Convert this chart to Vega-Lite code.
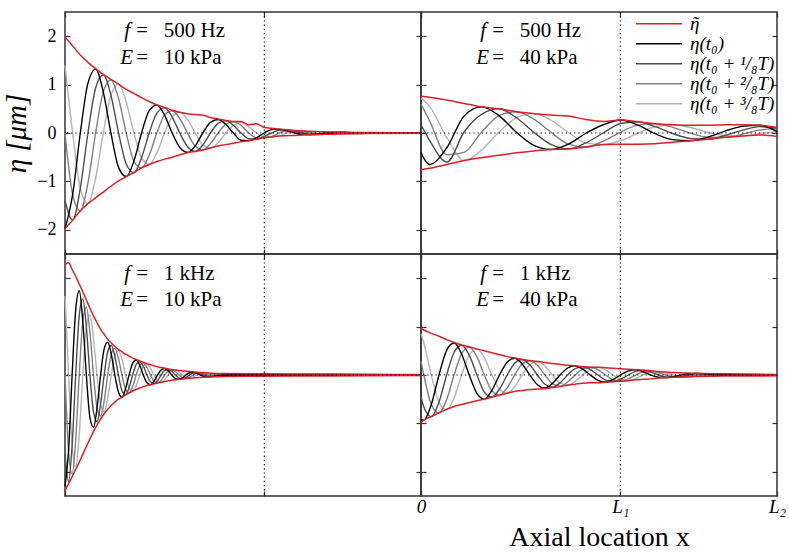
{
"$schema": "https://vega.github.io/schema/vega-lite/v6.json",
"background": "white",
"padding": {"left": 2, "top": 10, "right": 10, "bottom": 0},
"datasets": {
"tl": [
{"x":0,"u":1.98,"l":-1.98,"a":-1.98,"b":-1.4,"c":0,"d":1.4},
{"x":0.0215,"u":1.8,"l":-1.8,"a":-1.27,"b":-1.8,"c":-1.27,"d":0},
{"x":0.043,"u":1.61,"l":-1.61,"a":0,"b":-1.14,"c":-1.61,"d":-1.14},
{"x":0.0645,"u":1.46,"l":-1.46,"a":1.03,"b":0,"c":-1.03,"d":-1.46},
{"x":0.086,"u":1.33,"l":-1.34,"a":1.32,"b":0.93,"c":0,"d":-0.93},
{"x":0.1075,"u":1.21,"l":-1.22,"a":0.85,"b":1.2,"c":0.85,"d":0},
{"x":0.129,"u":1.11,"l":-1.1,"a":0,"b":0.78,"c":1.1,"d":0.78},
{"x":0.1505,"u":1.01,"l":-0.99,"a":-0.71,"b":0,"c":0.71,"d":1.01},
{"x":0.172,"u":0.9,"l":-0.9,"a":-0.9,"b":-0.64,"c":0,"d":0.64},
{"x":0.1935,"u":0.82,"l":-0.82,"a":-0.58,"b":-0.82,"c":-0.58,"d":0},
{"x":0.215,"u":0.73,"l":-0.72,"a":0,"b":-0.51,"c":-0.72,"d":-0.51},
{"x":0.2365,"u":0.65,"l":-0.65,"a":0.46,"b":0,"c":-0.46,"d":-0.65},
{"x":0.258,"u":0.58,"l":-0.59,"a":0.58,"b":0.41,"c":0,"d":-0.41},
{"x":0.2795,"u":0.53,"l":-0.54,"a":0.37,"b":0.52,"c":0.37,"d":0},
{"x":0.301,"u":0.47,"l":-0.5,"a":0,"b":0.33,"c":0.46,"d":0.33},
{"x":0.3225,"u":0.43,"l":-0.45,"a":-0.3,"b":0,"c":0.3,"d":0.43},
{"x":0.344,"u":0.4,"l":-0.41,"a":-0.4,"b":-0.28,"c":0,"d":0.28},
{"x":0.3655,"u":0.38,"l":-0.38,"a":-0.27,"b":-0.38,"c":-0.27,"d":0},
{"x":0.387,"u":0.37,"l":-0.35,"a":0,"b":-0.25,"c":-0.35,"d":-0.25},
{"x":0.4085,"u":0.32,"l":-0.31,"a":0.22,"b":0,"c":-0.22,"d":-0.31},
{"x":0.43,"u":0.29,"l":-0.27,"a":0.28,"b":0.2,"c":0,"d":-0.2},
{"x":0.4515,"u":0.26,"l":-0.24,"a":0.18,"b":0.25,"c":0.18,"d":0},
{"x":0.473,"u":0.24,"l":-0.21,"a":0,"b":0.16,"c":0.23,"d":0.16},
{"x":0.4945,"u":0.24,"l":-0.18,"a":-0.15,"b":0,"c":0.16,"d":0.22},
{"x":0.516,"u":0.17,"l":-0.16,"a":-0.16,"b":-0.12,"c":0,"d":0.13},
{"x":0.5375,"u":0.19,"l":-0.13,"a":-0.1,"b":-0.13,"c":-0.1,"d":0},
{"x":0.559,"u":0.12,"l":-0.1,"a":0,"b":-0.07,"c":-0.1,"d":-0.07},
{"x":0.5805,"u":0.1,"l":-0.08,"a":0.07,"b":0,"c":-0.07,"d":-0.08},
{"x":0.602,"u":0.08,"l":-0.06,"a":0.08,"b":0.057,"c":0,"d":-0.057},
{"x":0.6235,"u":0.065,"l":-0.055,"a":0.046,"b":0.062,"c":0.046,"d":0},
{"x":0.645,"u":0.05,"l":-0.05,"a":0,"b":0.035,"c":0.05,"d":0.035},
{"x":0.6665,"u":0.04,"l":-0.04,"a":-0.028,"b":0,"c":0.028,"d":0.04},
{"x":0.688,"u":0.035,"l":-0.035,"a":-0.035,"b":-0.025,"c":0,"d":0.025},
{"x":0.7095,"u":0.03,"l":-0.03,"a":-0.021,"b":-0.03,"c":-0.021,"d":0},
{"x":0.731,"u":0.025,"l":-0.028,"a":0,"b":-0.018,"c":-0.025,"d":-0.018},
{"x":0.7525,"u":0.02,"l":-0.024,"a":0.014,"b":0,"c":-0.014,"d":-0.02},
{"x":0.774,"u":0.015,"l":-0.02,"a":0.015,"b":0.011,"c":0,"d":-0.011},
{"x":0.85,"u":0.008,"l":-0.012,"a":0,"b":0,"c":0,"d":0},
{"x":1,"u":0.002,"l":-0.006,"a":0,"b":0,"c":0,"d":0}
],
"tr": [
{"x":0,"u":0.76,"l":-0.76,"a":-0.41,"b":0.17,"c":0.6,"d":0.72},
{"x":0.024,"u":0.74,"l":-0.73,"a":-0.65,"b":-0.15,"c":0.25,"d":0.55},
{"x":0.073,"u":0.68,"l":-0.65,"a":-0.3,"b":-0.6,"c":-0.45,"d":-0.1},
{"x":0.121,"u":0.61,"l":-0.57,"a":0.35,"b":0.02,"c":-0.4,"d":-0.57},
{"x":0.17,"u":0.54,"l":-0.51,"a":0.54,"b":0.386,"c":0.015,"d":-0.356},
{"x":0.219,"u":0.5,"l":-0.46,"a":0.36,"b":0.5,"c":0.36,"d":0.02},
{"x":0.268,"u":0.44,"l":-0.41,"a":0.015,"b":0.315,"c":0.44,"d":0.315},
{"x":0.317,"u":0.4,"l":-0.37,"a":-0.257,"b":0.015,"c":0.287,"d":0.4},
{"x":0.365,"u":0.37,"l":-0.34,"a":-0.34,"b":-0.236,"c":0.015,"d":0.266},
{"x":0.414,"u":0.35,"l":-0.33,"a":-0.23,"b":-0.33,"c":-0.23,"d":0.01},
{"x":0.463,"u":0.28,"l":-0.29,"a":-0.005,"b":-0.205,"c":-0.29,"d":-0.205},
{"x":0.512,"u":0.24,"l":-0.24,"a":0.17,"b":0,"c":-0.17,"d":-0.24},
{"x":0.561,"u":0.27,"l":-0.23,"a":0.27,"b":0.197,"c":0.02,"d":-0.157},
{"x":0.61,"u":0.23,"l":-0.23,"a":0.163,"b":0.23,"c":0.163,"d":0},
{"x":0.658,"u":0.19,"l":-0.22,"a":-0.015,"b":0.13,"c":0.19,"d":0.13},
{"x":0.707,"u":0.17,"l":-0.19,"a":-0.137,"b":-0.01,"c":0.117,"d":0.17},
{"x":0.756,"u":0.16,"l":-0.16,"a":-0.16,"b":-0.113,"c":0,"d":0.113},
{"x":0.805,"u":0.16,"l":-0.13,"a":-0.088,"b":-0.13,"c":-0.088,"d":0.015},
{"x":0.854,"u":0.17,"l":-0.09,"a":0.04,"b":-0.052,"c":-0.09,"d":-0.052},
{"x":0.902,"u":0.17,"l":-0.06,"a":0.136,"b":0.055,"c":-0.026,"d":-0.06},
{"x":0.951,"u":0.16,"l":-0.04,"a":0.16,"b":0.131,"c":0.06,"d":-0.011},
{"x":1,"u":0.12,"l":-0.07,"a":0.03,"b":0.1,"c":0.09,"d":0.025}
],
"bl": [
{"x":0,"u":2.28,"l":-2.38,"a":-2.3,"b":-1.63,"c":0,"d":1.63},
{"x":0.01,"u":2.32,"l":-2.25,"a":-1.56,"b":-2.2,"c":-1.56,"d":0},
{"x":0.02,"u":2.18,"l":-2.1,"a":0,"b":-1.45,"c":-2.05,"d":-1.45},
{"x":0.03,"u":2.04,"l":-1.95,"a":1.34,"b":0,"c":-1.34,"d":-1.9},
{"x":0.04,"u":1.88,"l":-1.8,"a":1.74,"b":1.23,"c":0,"d":-1.23},
{"x":0.05,"u":1.72,"l":-1.64,"a":1.11,"b":1.57,"c":1.11,"d":0},
{"x":0.06,"u":1.55,"l":-1.48,"a":0,"b":0.99,"c":1.4,"d":0.99},
{"x":0.07,"u":1.38,"l":-1.32,"a":-0.88,"b":0,"c":0.88,"d":1.24},
{"x":0.08,"u":1.22,"l":-1.17,"a":-1.08,"b":-0.76,"c":0,"d":0.76},
{"x":0.09,"u":1.08,"l":-1.03,"a":-0.68,"b":-0.96,"c":-0.68,"d":0},
{"x":0.1,"u":0.95,"l":-0.91,"a":0,"b":-0.6,"c":-0.85,"d":-0.6},
{"x":0.11,"u":0.84,"l":-0.8,"a":0.54,"b":0,"c":-0.54,"d":-0.76},
{"x":0.12,"u":0.74,"l":-0.71,"a":0.68,"b":0.48,"c":0,"d":-0.48},
{"x":0.13,"u":0.66,"l":-0.63,"a":0.43,"b":0.61,"c":0.43,"d":0},
{"x":0.14,"u":0.59,"l":-0.56,"a":0,"b":0.39,"c":0.55,"d":0.39},
{"x":0.15,"u":0.53,"l":-0.5,"a":-0.35,"b":0,"c":0.35,"d":0.5},
{"x":0.16,"u":0.48,"l":-0.46,"a":-0.46,"b":-0.325,"c":0,"d":0.325},
{"x":0.17,"u":0.43,"l":-0.41,"a":-0.29,"b":-0.41,"c":-0.29,"d":0},
{"x":0.18,"u":0.39,"l":-0.37,"a":0,"b":-0.26,"c":-0.37,"d":-0.26},
{"x":0.19,"u":0.35,"l":-0.33,"a":0.24,"b":0,"c":-0.24,"d":-0.34},
{"x":0.2,"u":0.32,"l":-0.3,"a":0.31,"b":0.22,"c":0,"d":-0.22},
{"x":0.21,"u":0.29,"l":-0.27,"a":0.2,"b":0.28,"c":0.2,"d":0},
{"x":0.22,"u":0.26,"l":-0.24,"a":0,"b":0.18,"c":0.25,"d":0.18},
{"x":0.23,"u":0.235,"l":-0.215,"a":-0.16,"b":0,"c":0.16,"d":0.225},
{"x":0.24,"u":0.21,"l":-0.2,"a":-0.2,"b":-0.14,"c":0,"d":0.14},
{"x":0.25,"u":0.19,"l":-0.18,"a":-0.127,"b":-0.18,"c":-0.127,"d":0},
{"x":0.26,"u":0.17,"l":-0.165,"a":0,"b":-0.117,"c":-0.165,"d":-0.117},
{"x":0.27,"u":0.155,"l":-0.15,"a":0.106,"b":0,"c":-0.106,"d":-0.15},
{"x":0.28,"u":0.14,"l":-0.135,"a":0.135,"b":0.095,"c":0,"d":-0.095},
{"x":0.29,"u":0.125,"l":-0.12,"a":0.085,"b":0.12,"c":0.085,"d":0},
{"x":0.3,"u":0.115,"l":-0.11,"a":0,"b":0.078,"c":0.11,"d":0.078},
{"x":0.31,"u":0.105,"l":-0.1,"a":-0.071,"b":0,"c":0.071,"d":0.1},
{"x":0.32,"u":0.095,"l":-0.09,"a":-0.09,"b":-0.064,"c":0,"d":0.064},
{"x":0.33,"u":0.085,"l":-0.08,"a":-0.057,"b":-0.08,"c":-0.057,"d":0},
{"x":0.34,"u":0.078,"l":-0.072,"a":0,"b":-0.051,"c":-0.072,"d":-0.051},
{"x":0.35,"u":0.07,"l":-0.066,"a":0.046,"b":0,"c":-0.046,"d":-0.065},
{"x":0.36,"u":0.065,"l":-0.06,"a":0.058,"b":0.041,"c":0,"d":-0.041},
{"x":0.37,"u":0.058,"l":-0.055,"a":0.037,"b":0.052,"c":0.037,"d":0},
{"x":0.38,"u":0.052,"l":-0.05,"a":0,"b":0.033,"c":0.046,"d":0.033},
{"x":0.39,"u":0.047,"l":-0.045,"a":-0.029,"b":0,"c":0.029,"d":0.041},
{"x":0.4,"u":0.043,"l":-0.042,"a":-0.036,"b":-0.025,"c":0,"d":0.025},
{"x":0.45,"u":0.03,"l":-0.03,"a":0,"b":0,"c":0,"d":0},
{"x":0.55,"u":0.025,"l":-0.025,"a":0,"b":0,"c":0,"d":0},
{"x":0.7,"u":0.02,"l":-0.02,"a":0,"b":0,"c":0,"d":0},
{"x":0.85,"u":0.015,"l":-0.015,"a":0,"b":0,"c":0,"d":0},
{"x":1,"u":0.01,"l":-0.012,"a":0,"b":0,"c":0,"d":0}
],
"br": [
{"x":0,"u":0.97,"l":-0.98,"a":-0.93,"b":-0.46,"c":0.28,"d":0.85},
{"x":0.008,"u":0.93,"l":-0.93,"a":-0.93,"b":-0.66,"c":0,"d":0.66},
{"x":0.029,"u":0.86,"l":-0.86,"a":-0.61,"b":-0.86,"c":-0.61,"d":0},
{"x":0.0505,"u":0.8,"l":-0.78,"a":0,"b":-0.56,"c":-0.79,"d":-0.56},
{"x":0.072,"u":0.73,"l":-0.71,"a":0.51,"b":0,"c":-0.51,"d":-0.72},
{"x":0.093,"u":0.67,"l":-0.65,"a":0.66,"b":0.47,"c":0,"d":-0.47},
{"x":0.114,"u":0.62,"l":-0.61,"a":0.435,"b":0.615,"c":0.435,"d":0},
{"x":0.1355,"u":0.58,"l":-0.57,"a":0,"b":0.41,"c":0.575,"d":0.41},
{"x":0.157,"u":0.54,"l":-0.53,"a":-0.38,"b":0,"c":0.38,"d":0.535},
{"x":0.178,"u":0.5,"l":-0.5,"a":-0.5,"b":-0.354,"c":0,"d":0.354},
{"x":0.199,"u":0.46,"l":-0.455,"a":-0.32,"b":-0.455,"c":-0.32,"d":0},
{"x":0.2205,"u":0.42,"l":-0.415,"a":0,"b":-0.29,"c":-0.415,"d":-0.29},
{"x":0.242,"u":0.38,"l":-0.375,"a":0.265,"b":0,"c":-0.265,"d":-0.375},
{"x":0.263,"u":0.35,"l":-0.34,"a":0.345,"b":0.245,"c":0,"d":-0.245},
{"x":0.284,"u":0.32,"l":-0.32,"a":0.226,"b":0.32,"c":0.226,"d":0},
{"x":0.3055,"u":0.3,"l":-0.3,"a":0,"b":0.21,"c":0.295,"d":0.21},
{"x":0.327,"u":0.28,"l":-0.29,"a":-0.2,"b":0,"c":0.2,"d":0.28},
{"x":0.348,"u":0.26,"l":-0.28,"a":-0.27,"b":-0.19,"c":0,"d":0.19},
{"x":0.369,"u":0.24,"l":-0.26,"a":-0.177,"b":-0.25,"c":-0.177,"d":0},
{"x":0.3905,"u":0.22,"l":-0.24,"a":0,"b":-0.163,"c":-0.23,"d":-0.163},
{"x":0.412,"u":0.2,"l":-0.21,"a":0.145,"b":0,"c":-0.145,"d":-0.205},
{"x":0.433,"u":0.19,"l":-0.19,"a":0.19,"b":0.134,"c":0,"d":-0.134},
{"x":0.454,"u":0.17,"l":-0.17,"a":0.12,"b":0.17,"c":0.12,"d":0},
{"x":0.4755,"u":0.16,"l":-0.16,"a":0,"b":0.113,"c":0.16,"d":0.113},
{"x":0.497,"u":0.16,"l":-0.16,"a":-0.111,"b":0,"c":0.111,"d":0.157},
{"x":0.518,"u":0.15,"l":-0.15,"a":-0.15,"b":-0.106,"c":0,"d":0.106},
{"x":0.539,"u":0.14,"l":-0.14,"a":-0.095,"b":-0.135,"c":-0.095,"d":0},
{"x":0.5605,"u":0.13,"l":-0.13,"a":0,"b":-0.088,"c":-0.125,"d":-0.088},
{"x":0.582,"u":0.12,"l":-0.12,"a":0.081,"b":0,"c":-0.081,"d":-0.115},
{"x":0.603,"u":0.11,"l":-0.1,"a":0.105,"b":0.074,"c":0,"d":-0.074},
{"x":0.624,"u":0.1,"l":-0.09,"a":0.067,"b":0.095,"c":0.067,"d":0},
{"x":0.6455,"u":0.09,"l":-0.08,"a":0,"b":0.06,"c":0.085,"d":0.06},
{"x":0.667,"u":0.07,"l":-0.06,"a":-0.046,"b":0,"c":0.046,"d":0.065},
{"x":0.688,"u":0.06,"l":-0.055,"a":-0.055,"b":-0.039,"c":0,"d":0.039},
{"x":0.709,"u":0.05,"l":-0.048,"a":-0.034,"b":-0.048,"c":-0.034,"d":0},
{"x":0.7305,"u":0.045,"l":-0.043,"a":0,"b":-0.03,"c":-0.043,"d":-0.03},
{"x":0.752,"u":0.04,"l":-0.038,"a":0.027,"b":0,"c":-0.027,"d":-0.038},
{"x":0.773,"u":0.035,"l":-0.033,"a":0.033,"b":0.023,"c":0,"d":-0.023},
{"x":0.85,"u":0.025,"l":-0.022,"a":0,"b":0,"c":0,"d":0},
{"x":1,"u":0.012,"l":-0.018,"a":0,"b":0,"c":0,"d":0}
]
},
"columns": 2,
"spacing": 0,
"bounds": "flush",
"resolve": {"scale": {"color": "independent"}, "legend": {"color": "independent"}},
"concat": [
{
"width": 356, "height": 242,
"data": {"name": "tl"},
"resolve": {"axis": {"x": "independent", "y": "independent"}},
"layer": [
{"transform": [{"fold": ["d","c","b","a"], "as": ["s","v"]}],
 "mark": {"type": "line", "interpolate": "monotone", "strokeWidth": 1.4},
 "encoding": {
  "x": {"field": "x", "type": "quantitative", "scale": {"domain": [0,1], "nice": false, "zero": false}, "axis": {"orient": "bottom", "values": [0,0.56,1], "labels": false, "title": null, "tickSize": -5}},
  "y": {"field": "v", "type": "quantitative", "scale": {"domain": [-2.5,2.5], "nice": false, "zero": false}, "axis": {"orient": "left", "values": [-2,-1,0,1,2], "tickSize": -5, "labelPadding": 14, "labelFontSize": 18, "labelFlush": false, "title": "η [μm]", "titleFontSize": 29, "titleFontStyle": "italic", "titlePadding": 5}},
  "color": {"field": "s", "type": "nominal", "scale": {"domain": ["u","l","a","b","c","d"], "range": ["#dc1f26","#dc1f26","#000000","#4d4d4d","#808080","#b3b3b3"]}, "legend": null}
 }},
{"transform": [{"fold": ["u","l"], "as": ["s","v"]}],
 "mark": {"type": "line", "interpolate": "monotone", "strokeWidth": 1.5},
 "encoding": {
  "x": {"field": "x", "type": "quantitative", "scale": {"domain": [0,1], "nice": false, "zero": false}, "axis": {"orient": "top", "values": [0,0.56,1], "labels": false, "title": null, "tickSize": -5}},
  "y": {"field": "v", "type": "quantitative", "scale": {"domain": [-2.5,2.5], "nice": false, "zero": false}, "axis": {"orient": "right", "values": [-2,-1,0,1,2], "labels": false, "title": null, "tickSize": -5}},
  "color": {"field": "s", "type": "nominal", "scale": {"domain": ["u","l","a","b","c","d"], "range": ["#dc1f26","#dc1f26","#000000","#4d4d4d","#808080","#b3b3b3"]}, "legend": null}
 }},
{"data": {"values": [{}]}, "mark": {"type": "rule", "color": "#000", "strokeWidth": 1.2, "strokeDash": [1.2, 3]}, "encoding": {"y": {"datum": 0, "axis": null}}},
{"data": {"values": [{}]}, "mark": {"type": "rule", "color": "#000", "strokeWidth": 1.2, "strokeDash": [1.2, 3]}, "encoding": {"x": {"datum": 0.56, "axis": null}}},
{"data": {"values": [{}]}, "mark": {"type": "text", "text": "f", "align": "right", "baseline": "alphabetic", "dx": -6, "font": "Liberation Serif", "fontSize": 21, "fontStyle": "italic", "color": "#000"}, "encoding": {"x": {"datum": 0.2, "axis": null}, "y": {"datum": 1.98, "axis": null}}},
{"data": {"values": [{}]}, "mark": {"type": "text", "text": "=\u00a0\u00a0\u00a0500\u00a0Hz", "align": "left", "baseline": "alphabetic", "font": "Liberation Serif", "fontSize": 21, "color": "#000"}, "encoding": {"x": {"datum": 0.2, "axis": null}, "y": {"datum": 1.98, "axis": null}}},
{"data": {"values": [{}]}, "mark": {"type": "text", "text": "E", "align": "right", "baseline": "alphabetic", "dx": -3, "font": "Liberation Serif", "fontSize": 21, "fontStyle": "italic", "color": "#000"}, "encoding": {"x": {"datum": 0.2, "axis": null}, "y": {"datum": 1.43, "axis": null}}},
{"data": {"values": [{}]}, "mark": {"type": "text", "text": "=\u00a0\u00a0\u00a010\u00a0kPa", "align": "left", "baseline": "alphabetic", "font": "Liberation Serif", "fontSize": 21, "color": "#000"}, "encoding": {"x": {"datum": 0.2, "axis": null}, "y": {"datum": 1.43, "axis": null}}}
]
},
{
"width": 356, "height": 242,
"data": {"name": "tr"},
"resolve": {"axis": {"x": "independent", "y": "independent"}},
"layer": [
{"transform": [{"fold": ["d","c","b","a"], "as": ["s","v"]}],
 "mark": {"type": "line", "interpolate": "monotone", "strokeWidth": 1.4},
 "encoding": {
  "x": {"field": "x", "type": "quantitative", "scale": {"domain": [0,1], "nice": false, "zero": false}, "axis": {"orient": "bottom", "values": [0,0.56,1], "labels": false, "title": null, "tickSize": -5}},
  "y": {"field": "v", "type": "quantitative", "scale": {"domain": [-2.5,2.5], "nice": false, "zero": false}, "axis": {"orient": "left", "values": [-2,-1,0,1,2], "labels": false, "title": null, "tickSize": -5}},
  "color": {"field": "s", "type": "nominal", "scale": {"domain": ["u","l","a","b","c","d"], "range": ["#dc1f26","#dc1f26","#000000","#4d4d4d","#808080","#b3b3b3"]},
   "legend": {"title": null, "orient": "top-right", "offset": 2, "padding": 0, "values": ["u","a","b","c","d"], "labelExpr": "datum.value=='u'?'ῆ':datum.value=='a'?'η(t₀)':datum.value=='b'?'η(t₀\u00a0+\u00a0¹/₈T)':datum.value=='c'?'η(t₀\u00a0+\u00a0²/₈T)':'η(t₀\u00a0+\u00a0³/₈T)'", "symbolType": "stroke", "symbolSize": 2116, "symbolStrokeWidth": 1.5, "clipHeight": 19.3, "rowPadding": 0, "labelOffset": 7, "labelFont": "Liberation Serif", "labelFontSize": 19, "labelFontStyle": "italic", "labelColor": "#000", "labelLimit": 300}}
 }},
{"transform": [{"fold": ["u","l"], "as": ["s","v"]}],
 "mark": {"type": "line", "interpolate": "monotone", "strokeWidth": 1.5},
 "encoding": {
  "x": {"field": "x", "type": "quantitative", "scale": {"domain": [0,1], "nice": false, "zero": false}, "axis": {"orient": "top", "values": [0,0.56,1], "labels": false, "title": null, "tickSize": -5}},
  "y": {"field": "v", "type": "quantitative", "scale": {"domain": [-2.5,2.5], "nice": false, "zero": false}, "axis": {"orient": "right", "values": [-2,-1,0,1,2], "labels": false, "title": null, "tickSize": -5}},
  "color": {"field": "s", "type": "nominal", "scale": {"domain": ["u","l","a","b","c","d"], "range": ["#dc1f26","#dc1f26","#000000","#4d4d4d","#808080","#b3b3b3"]},
   "legend": {"title": null, "orient": "top-right", "offset": 2, "padding": 0, "values": ["u","a","b","c","d"], "labelExpr": "datum.value=='u'?'ῆ':datum.value=='a'?'η(t₀)':datum.value=='b'?'η(t₀\u00a0+\u00a0¹/₈T)':datum.value=='c'?'η(t₀\u00a0+\u00a0²/₈T)':'η(t₀\u00a0+\u00a0³/₈T)'", "symbolType": "stroke", "symbolSize": 2116, "symbolStrokeWidth": 1.5, "clipHeight": 19.3, "rowPadding": 0, "labelOffset": 7, "labelFont": "Liberation Serif", "labelFontSize": 19, "labelFontStyle": "italic", "labelColor": "#000", "labelLimit": 300}}
 }},
{"data": {"values": [{}]}, "mark": {"type": "rule", "color": "#000", "strokeWidth": 1.2, "strokeDash": [1.2, 3]}, "encoding": {"y": {"datum": 0, "axis": null}}},
{"data": {"values": [{}]}, "mark": {"type": "rule", "color": "#000", "strokeWidth": 1.2, "strokeDash": [1.2, 3]}, "encoding": {"x": {"datum": 0.56, "axis": null}}},
{"data": {"values": [{}]}, "mark": {"type": "text", "text": "f", "align": "right", "baseline": "alphabetic", "dx": -6, "font": "Liberation Serif", "fontSize": 21, "fontStyle": "italic", "color": "#000"}, "encoding": {"x": {"datum": 0.2, "axis": null}, "y": {"datum": 1.98, "axis": null}}},
{"data": {"values": [{}]}, "mark": {"type": "text", "text": "=\u00a0\u00a0\u00a0500\u00a0Hz", "align": "left", "baseline": "alphabetic", "font": "Liberation Serif", "fontSize": 21, "color": "#000"}, "encoding": {"x": {"datum": 0.2, "axis": null}, "y": {"datum": 1.98, "axis": null}}},
{"data": {"values": [{}]}, "mark": {"type": "text", "text": "E", "align": "right", "baseline": "alphabetic", "dx": -3, "font": "Liberation Serif", "fontSize": 21, "fontStyle": "italic", "color": "#000"}, "encoding": {"x": {"datum": 0.2, "axis": null}, "y": {"datum": 1.43, "axis": null}}},
{"data": {"values": [{}]}, "mark": {"type": "text", "text": "=\u00a0\u00a0\u00a040\u00a0kPa", "align": "left", "baseline": "alphabetic", "font": "Liberation Serif", "fontSize": 21, "color": "#000"}, "encoding": {"x": {"datum": 0.2, "axis": null}, "y": {"datum": 1.43, "axis": null}}}
]
},
{
"width": 356, "height": 242,
"data": {"name": "bl"},
"resolve": {"axis": {"x": "independent", "y": "independent"}},
"layer": [
{"transform": [{"fold": ["d","c","b","a"], "as": ["s","v"]}],
 "mark": {"type": "line", "interpolate": "monotone", "strokeWidth": 1.4},
 "encoding": {
  "x": {"field": "x", "type": "quantitative", "scale": {"domain": [0,1], "nice": false, "zero": false}, "axis": {"orient": "bottom", "values": [0,0.56,1], "labels": false, "title": null, "tickSize": -5}},
  "y": {"field": "v", "type": "quantitative", "scale": {"domain": [-2.5,2.5], "nice": false, "zero": false}, "axis": {"orient": "left", "values": [-2,-1,0,1,2], "labels": false, "title": null, "tickSize": -5}},
  "color": {"field": "s", "type": "nominal", "scale": {"domain": ["u","l","a","b","c","d"], "range": ["#dc1f26","#dc1f26","#000000","#4d4d4d","#808080","#b3b3b3"]}, "legend": null}
 }},
{"transform": [{"fold": ["u","l"], "as": ["s","v"]}],
 "mark": {"type": "line", "interpolate": "monotone", "strokeWidth": 1.5},
 "encoding": {
  "x": {"field": "x", "type": "quantitative", "scale": {"domain": [0,1], "nice": false, "zero": false}, "axis": {"orient": "top", "values": [0,0.56,1], "labels": false, "title": null, "tickSize": -5}},
  "y": {"field": "v", "type": "quantitative", "scale": {"domain": [-2.5,2.5], "nice": false, "zero": false}, "axis": {"orient": "right", "values": [-2,-1,0,1,2], "labels": false, "title": null, "tickSize": -5}},
  "color": {"field": "s", "type": "nominal", "scale": {"domain": ["u","l","a","b","c","d"], "range": ["#dc1f26","#dc1f26","#000000","#4d4d4d","#808080","#b3b3b3"]}, "legend": null}
 }},
{"data": {"values": [{}]}, "mark": {"type": "rule", "color": "#000", "strokeWidth": 1.2, "strokeDash": [1.2, 3]}, "encoding": {"y": {"datum": 0, "axis": null}}},
{"data": {"values": [{}]}, "mark": {"type": "rule", "color": "#000", "strokeWidth": 1.2, "strokeDash": [1.2, 3]}, "encoding": {"x": {"datum": 0.56, "axis": null}}},
{"data": {"values": [{}]}, "mark": {"type": "text", "text": "f", "align": "right", "baseline": "alphabetic", "dx": -6, "font": "Liberation Serif", "fontSize": 21, "fontStyle": "italic", "color": "#000"}, "encoding": {"x": {"datum": 0.2, "axis": null}, "y": {"datum": 1.96, "axis": null}}},
{"data": {"values": [{}]}, "mark": {"type": "text", "text": "=\u00a0\u00a0\u00a01\u00a0kHz", "align": "left", "baseline": "alphabetic", "font": "Liberation Serif", "fontSize": 21, "color": "#000"}, "encoding": {"x": {"datum": 0.2, "axis": null}, "y": {"datum": 1.96, "axis": null}}},
{"data": {"values": [{}]}, "mark": {"type": "text", "text": "E", "align": "right", "baseline": "alphabetic", "dx": -3, "font": "Liberation Serif", "fontSize": 21, "fontStyle": "italic", "color": "#000"}, "encoding": {"x": {"datum": 0.2, "axis": null}, "y": {"datum": 1.43, "axis": null}}},
{"data": {"values": [{}]}, "mark": {"type": "text", "text": "=\u00a0\u00a0\u00a010\u00a0kPa", "align": "left", "baseline": "alphabetic", "font": "Liberation Serif", "fontSize": 21, "color": "#000"}, "encoding": {"x": {"datum": 0.2, "axis": null}, "y": {"datum": 1.43, "axis": null}}}
]
},
{
"width": 356, "height": 242,
"data": {"name": "br"},
"resolve": {"axis": {"x": "independent", "y": "independent"}},
"layer": [
{"transform": [{"fold": ["d","c","b","a"], "as": ["s","v"]}],
 "mark": {"type": "line", "interpolate": "monotone", "strokeWidth": 1.4},
 "encoding": {
  "x": {"field": "x", "type": "quantitative", "scale": {"domain": [0,1], "nice": false, "zero": false}, "axis": {"orient": "bottom", "values": [0,0.56,1], "tickSize": -5, "labelPadding": 6, "labelFontSize": 19, "labelFontStyle": "italic", "labelFlush": false, "labelExpr": "datum.value==0?'0':datum.value==1?'L₂':'L₁'", "title": "Axial location x", "titleFontSize": 28, "titlePadding": 7}},
  "y": {"field": "v", "type": "quantitative", "scale": {"domain": [-2.5,2.5], "nice": false, "zero": false}, "axis": {"orient": "left", "values": [-2,-1,0,1,2], "labels": false, "title": null, "tickSize": -5}},
  "color": {"field": "s", "type": "nominal", "scale": {"domain": ["u","l","a","b","c","d"], "range": ["#dc1f26","#dc1f26","#000000","#4d4d4d","#808080","#b3b3b3"]}, "legend": null}
 }},
{"transform": [{"fold": ["u","l"], "as": ["s","v"]}],
 "mark": {"type": "line", "interpolate": "monotone", "strokeWidth": 1.5},
 "encoding": {
  "x": {"field": "x", "type": "quantitative", "scale": {"domain": [0,1], "nice": false, "zero": false}, "axis": {"orient": "top", "values": [0,0.56,1], "labels": false, "title": null, "tickSize": -5}},
  "y": {"field": "v", "type": "quantitative", "scale": {"domain": [-2.5,2.5], "nice": false, "zero": false}, "axis": {"orient": "right", "values": [-2,-1,0,1,2], "labels": false, "title": null, "tickSize": -5}},
  "color": {"field": "s", "type": "nominal", "scale": {"domain": ["u","l","a","b","c","d"], "range": ["#dc1f26","#dc1f26","#000000","#4d4d4d","#808080","#b3b3b3"]}, "legend": null}
 }},
{"data": {"values": [{}]}, "mark": {"type": "rule", "color": "#000", "strokeWidth": 1.2, "strokeDash": [1.2, 3]}, "encoding": {"y": {"datum": 0, "axis": null}}},
{"data": {"values": [{}]}, "mark": {"type": "rule", "color": "#000", "strokeWidth": 1.2, "strokeDash": [1.2, 3]}, "encoding": {"x": {"datum": 0.56, "axis": null}}},
{"data": {"values": [{}]}, "mark": {"type": "text", "text": "f", "align": "right", "baseline": "alphabetic", "dx": -6, "font": "Liberation Serif", "fontSize": 21, "fontStyle": "italic", "color": "#000"}, "encoding": {"x": {"datum": 0.2, "axis": null}, "y": {"datum": 1.96, "axis": null}}},
{"data": {"values": [{}]}, "mark": {"type": "text", "text": "=\u00a0\u00a0\u00a01\u00a0kHz", "align": "left", "baseline": "alphabetic", "font": "Liberation Serif", "fontSize": 21, "color": "#000"}, "encoding": {"x": {"datum": 0.2, "axis": null}, "y": {"datum": 1.96, "axis": null}}},
{"data": {"values": [{}]}, "mark": {"type": "text", "text": "E", "align": "right", "baseline": "alphabetic", "dx": -3, "font": "Liberation Serif", "fontSize": 21, "fontStyle": "italic", "color": "#000"}, "encoding": {"x": {"datum": 0.2, "axis": null}, "y": {"datum": 1.43, "axis": null}}},
{"data": {"values": [{}]}, "mark": {"type": "text", "text": "=\u00a0\u00a0\u00a040\u00a0kPa", "align": "left", "baseline": "alphabetic", "font": "Liberation Serif", "fontSize": 21, "color": "#000"}, "encoding": {"x": {"datum": 0.2, "axis": null}, "y": {"datum": 1.43, "axis": null}}}
]
}
],
"config": {
 "font": "Liberation Serif",
 "view": {"stroke": "#333333", "strokeWidth": 1.5},
 "axis": {"domain": false, "grid": false, "tickColor": "#333333", "tickWidth": 1.2, "labelFont": "Liberation Serif", "titleFont": "Liberation Serif", "labelColor": "#000000", "titleColor": "#000000", "titleFontWeight": "normal"}
}
}
